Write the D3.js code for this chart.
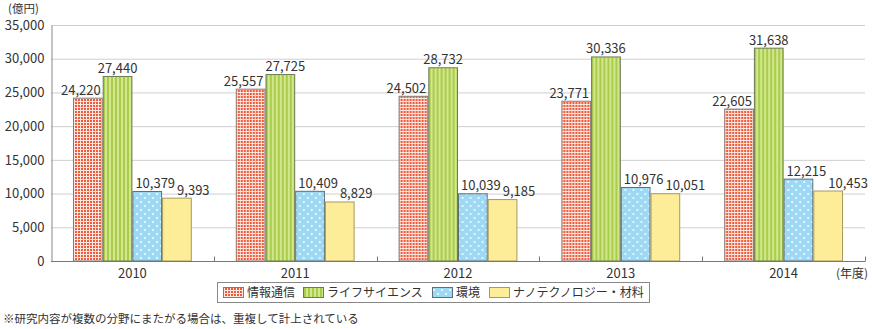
<!DOCTYPE html>
<html>
<head>
<meta charset="utf-8">
<script src="https://cdn.jsdelivr.net/npm/d3@7/dist/d3.min.js"></script>
<style>
  html, body { margin: 0; padding: 0; background: #fff; }
  svg text { font-family: "Noto Sans CJK JP", "Noto Sans", sans-serif; fill: #333; }
</style>
</head>
<body>
<svg id="chart" width="872" height="329"></svg>
<script>
// Research expenditure by field (unit: 100 million yen)
const years = ["2010", "2011", "2012", "2013", "2014"];
const seriesNames = ["情報通信", "ライフサイエンス", "環境", "ナノテクノロジー・材料"];
const infoComm   = [24220, 25557, 24502, 23771, 22605];
const lifeSci    = [27440, 27725, 28732, 30336, 31638];
const environ    = [10379, 10409, 10039, 10976, 12215];
const nanoMat    = [9393, 8829, 9185, 10051, 10453];
const yTicks = [0, 5000, 10000, 15000, 20000, 25000, 30000, 35000];
const unitLabel = "(億円)";
const xUnitLabel = "(年度)";
const footnote = "※研究内容が複数の分野にまたがる場合は、重複して計上されている";

const seriesValues = [infoComm, lifeSci, environ, nanoMat];

const svg = d3.select("#chart");
const margin = { left: 51, right: 7, top: 25, bottom: 68 };
const W = 872, H = 329;

const x0 = d3.scaleBand().domain(years).range([margin.left, W - margin.right]).paddingInner(0).paddingOuter(0);
const x1 = d3.scaleBand().domain(d3.range(4)).range([22, x0.bandwidth() - 22]);
const y = d3.scaleLinear().domain([0, 35000]).range([H - margin.bottom, margin.top]);

// fill patterns
const defs = svg.append("defs");
const pRed = defs.append("pattern").attr("id", "pRed").attr("patternUnits", "userSpaceOnUse").attr("width", 3).attr("height", 3);
pRed.append("rect").attr("width", 3).attr("height", 3).attr("fill", "#ef5b3d");
pRed.append("rect").attr("x", 2).attr("width", 1).attr("height", 3).attr("fill", "#fde6df");
pRed.append("rect").attr("y", 2).attr("width", 3).attr("height", 1).attr("fill", "#fde6df");

const pGreen = defs.append("pattern").attr("id", "pGreen").attr("patternUnits", "userSpaceOnUse").attr("width", 4).attr("height", 4);
pGreen.append("rect").attr("width", 4).attr("height", 4).attr("fill", "#d3e78f");
pGreen.append("rect").attr("width", 2).attr("height", 4).attr("fill", "#a9cd4b");

const pBlue = defs.append("pattern").attr("id", "pBlue").attr("patternUnits", "userSpaceOnUse").attr("width", 8).attr("height", 8);
pBlue.append("rect").attr("width", 8).attr("height", 8).attr("fill", "#9dd8f5");
pBlue.append("circle").attr("cx", 2).attr("cy", 2).attr("r", 1).attr("fill", "#fff");
pBlue.append("circle").attr("cx", 6).attr("cy", 6).attr("r", 1).attr("fill", "#fff");

const fills = ["url(#pRed)", "url(#pGreen)", "url(#pBlue)", "#fdec98"];
const strokes = ["#8a7a76", "#6f7a55", "#5f6e78", "#a89a5a"];
// horizontal nudge of the value labels so neighbours do not collide
const labelShift = [-7, 0, 8, 11];

// gridlines
svg.append("g").selectAll("line").data(yTicks.filter(d => d > 0)).join("line")
  .attr("x1", margin.left).attr("x2", W - margin.right)
  .attr("y1", d => y(d) + 0.5).attr("y2", d => y(d) + 0.5)
  .attr("stroke", "#cfcfcf").attr("stroke-width", 1);

// y axis
const yAxis = svg.append("g").attr("transform", `translate(${margin.left + 0.5},0)`)
  .call(d3.axisLeft(y).tickValues(yTicks).tickSize(0).tickPadding(7).tickFormat(d3.format(",")));
yAxis.select(".domain").attr("stroke", "#888");
yAxis.selectAll("text").attr("font-size", 13).style("fill", "#333");

// bars
const groups = svg.append("g").selectAll("g").data(years).join("g")
  .attr("transform", d => `translate(${x0(d)},0)`);
groups.each(function (yr, i) {
  const g = d3.select(this);
  seriesValues.forEach((vals, s) => {
    const v = vals[i];
    g.append("rect")
      .attr("x", x1(s) + 0.5).attr("y", y(v) + 0.5)
      .attr("width", x1.bandwidth() - 1).attr("height", y(0) - y(v) - 0.5)
      .attr("fill", fills[s]).attr("stroke", strokes[s]).attr("stroke-width", 1);
  });
});
groups.each(function (yr, i) {
  const g = d3.select(this);
  let prev = null;
  seriesValues.forEach((vals, s) => {
    const v = vals[i];
    const t = g.append("text")
      .attr("x", x1(s) + x1.bandwidth() / 2 + labelShift[s]).attr("y", y(v) - 3)
      .attr("text-anchor", "middle").attr("font-size", 13)
      .text(d3.format(",")(v));
    // push a label right when it would sit on top of its left neighbour
    const b = t.node().getBBox();
    if (prev && Math.abs(b.y - prev.y) < b.height - 4 && b.x < prev.x + prev.width + 2) {
      const dx = prev.x + prev.width + 2 - b.x;
      t.attr("x", +t.attr("x") + dx);
      b.x += dx;
    }
    prev = b;
  });
});

// x axis
const xAxisY = y(0) + 0.5;
svg.append("line").attr("x1", margin.left).attr("x2", W - margin.right)
  .attr("y1", xAxisY).attr("y2", xAxisY).attr("stroke", "#777");
const bounds = years.map(d => x0(d)).concat([W - margin.right]);
svg.append("g").selectAll("line").data(bounds.slice(1)).join("line")
  .attr("x1", d => Math.round(d) + 0.5).attr("x2", d => Math.round(d) + 0.5)
  .attr("y1", xAxisY - 5).attr("y2", xAxisY).attr("stroke", "#777");
svg.append("g").selectAll("text").data(years).join("text")
  .attr("x", d => x0(d) + x0.bandwidth() / 2).attr("y", xAxisY + 16)
  .attr("text-anchor", "middle").attr("font-size", 13).text(d => d);

svg.append("text").attr("x", 8).attr("y", 13).attr("font-size", 11.5).text(unitLabel);
svg.append("text").attr("x", 836).attr("y", xAxisY + 16).attr("font-size", 12).text(xUnitLabel);

// legend
const legend = svg.append("g");
legend.append("rect").attr("x", 217.5).attr("y", 282.5).attr("width", 432).attr("height", 20)
  .attr("fill", "#fff").attr("stroke", "#888");
const legendX = [223, 303, 432, 489];
seriesNames.forEach((name, s) => {
  legend.append("rect").attr("x", legendX[s] + 0.5).attr("y", 287.5).attr("width", 20).attr("height", 10)
    .attr("fill", fills[s]).attr("stroke", strokes[s]);
  legend.append("text").attr("x", legendX[s] + 24).attr("y", 297).attr("font-size", 12).text(name);
});

svg.append("text").attr("x", 3).attr("y", 323).attr("font-size", 11.5).text(footnote);
</script>
</body>
</html>
